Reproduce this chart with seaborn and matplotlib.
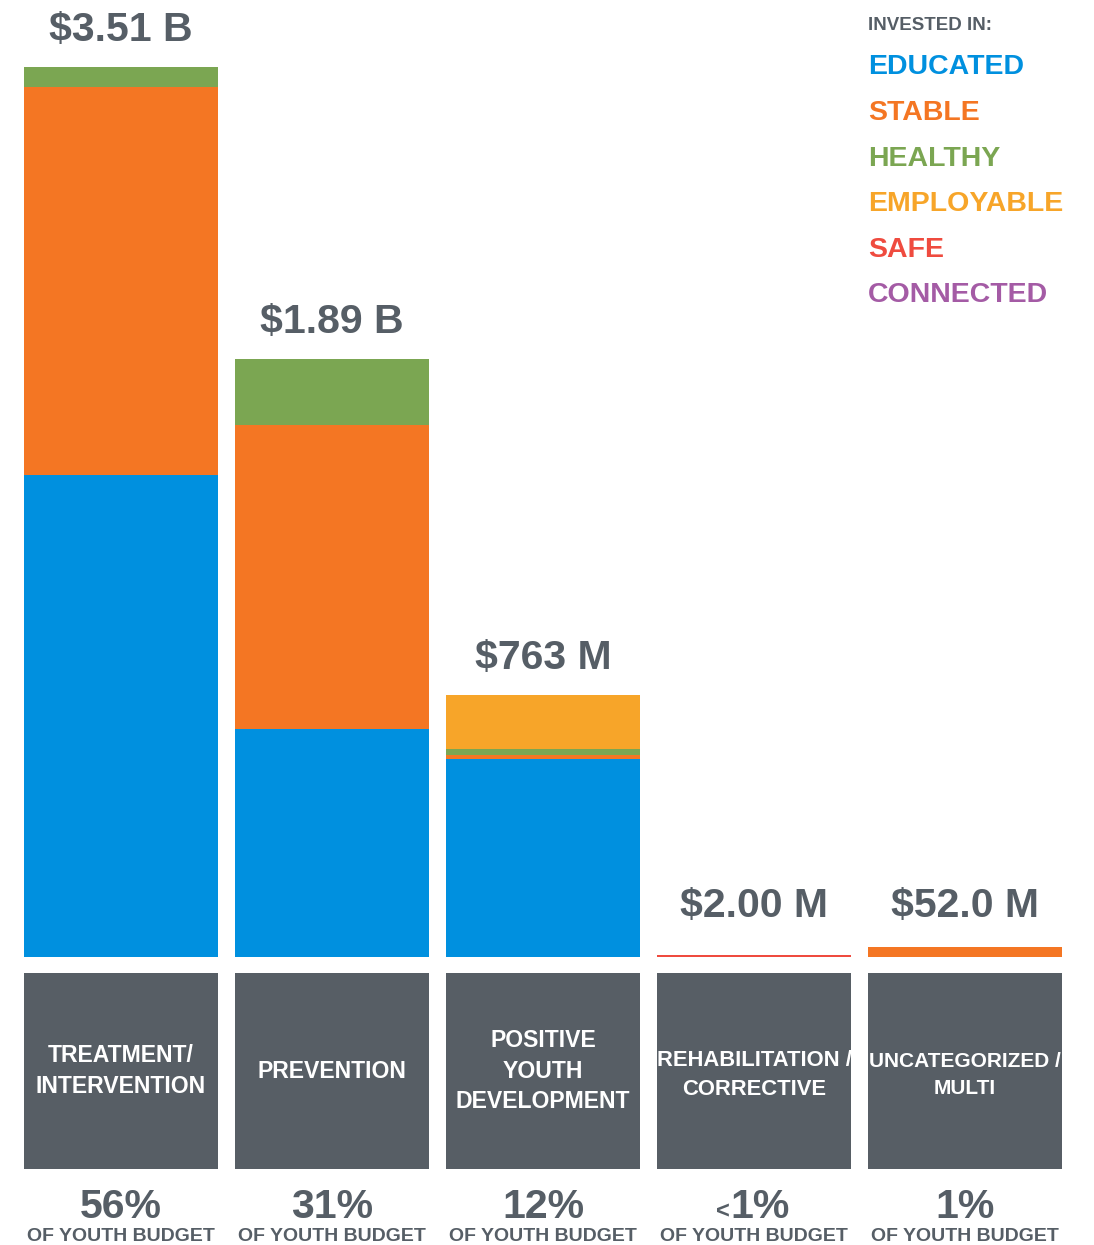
import matplotlib
matplotlib.use("Agg")
import matplotlib.pyplot as plt
import matplotlib.transforms as mtransforms
import numpy as np
import pandas as pd
import seaborn as sns

# ---------------- data (values as drawn, in "display billions") ----------------
categories = ["TREATMENT/\nINTERVENTION", "PREVENTION", "POSITIVE\nYOUTH\nDEVELOPMENT",
              "REHABILITATION /\nCORRECTIVE", "UNCATEGORIZED /\nMULTI"]
educated = [1.901, 0.899, 0.779, 0.0, 0.0]
stable = [1.530, 1.199, 0.016, 0.0, 0.039]
healthy = [0.079, 0.260, 0.026, 0.0, 0.0]
employable = [0.0, 0.0, 0.213, 0.0, 0.0]
safe = [0.0, 0.0, 0.0, 0.008, 0.0]
connected = [0.0, 0.0, 0.0, 0.0, 0.0]
total_labels = ["$3.51 B", "$1.89 B", "$763 M", "$2.00 M", "$52.0 M"]
share_labels = ["56%", "31%", "12%", "<1%", "1%"]
series_names = ["EDUCATED", "STABLE", "HEALTHY", "EMPLOYABLE", "SAFE", "CONNECTED"]

series_colors = ["#0090df", "#f47623", "#7ba652", "#f7a529", "#ef4b3f", "#a45ba5"]
text_gray = "#565e66"
box_gray = "#575e65"
box_font_sizes = [16.6, 16.6, 16.6, 15.8, 15.0]
box_line_spacing = [1.4, 1.4, 1.4, 1.5, 1.55]

sns.set_theme(style="white")
plt.rcParams["font.family"] = ["Liberation Sans", "DejaVu Sans"]
plt.rcParams["font.weight"] = "bold"

W, H = 1094, 1245
fig = plt.figure(figsize=(W / 100, H / 100), dpi=100)

left = 15.5 / W
width = 1055 / W
base_px = 957
ax = fig.add_axes([left, (H - base_px) / H, width, base_px / H])

df = pd.DataFrame({"cat": categories, "EDUCATED": educated, "STABLE": stable,
                   "HEALTHY": healthy, "EMPLOYABLE": employable, "SAFE": safe,
                   "CONNECTED": connected})
cum = df[series_names].cumsum(axis=1)

# draw cumulative layers from top to bottom so each lower layer covers the one above
for name, color in reversed(list(zip(series_names, series_colors))):
    sns.barplot(x=df["cat"], y=cum[name], order=categories,
                color=color, saturation=1, width=0.92, linewidth=0, ax=ax)

ax.set_xlim(-0.5, 4.5)
ax.set_ylim(0, 3.51 * base_px / 890)
ax.axis("off")

totals = cum["CONNECTED"].values
for i, (t, lab) in enumerate(zip(totals, total_labels)):
    ax.annotate(lab, xy=(i, max(t, 0.055)), xytext=(0, 37 * 0.72), textcoords="offset points",
                ha="center", va="center", fontsize=29.5, fontweight="bold", color=text_gray)

# category boxes
box_top, box_bot = 973, 1169
bax = fig.add_axes([left, (H - box_bot) / H, width, (box_bot - box_top) / H])
sns.barplot(x=categories, y=[1] * len(categories), order=categories, color=box_gray,
            saturation=1, width=0.92, linewidth=0, ax=bax)
bax.set_xlim(-0.5, 4.5)
bax.set_ylim(0, 1)
bax.axis("off")
for i, c in enumerate(categories):
    bax.text(i, 0.5 if i < 3 else 0.48, c, ha="center", va="center", color="white",
             fontsize=box_font_sizes[i], fontweight="bold", linespacing=box_line_spacing[i])

# shares
tr = mtransforms.blended_transform_factory(ax.transData, fig.transFigure)
pct_size = 29.5
for i, s in enumerate(share_labels):
    y = 1 - 1218 / H  # baseline
    if s.startswith("<"):
        main = s[1:]
        ax.annotate(main, xy=(i, y), xycoords=tr, xytext=(4.5, 0), textcoords="offset points",
                    ha="center", va="baseline", fontsize=pct_size, fontweight="bold",
                    color=text_gray, annotation_clip=False)
        ax.annotate("<", xy=(i, y), xycoords=tr, xytext=(-17.5, 0), textcoords="offset points",
                    ha="right", va="baseline", fontsize=17, fontweight="bold",
                    color=text_gray, annotation_clip=False)
    else:
        ax.text(i, y, s, transform=tr, ha="center", va="baseline",
                fontsize=pct_size, fontweight="bold", color=text_gray, clip_on=False)
    ax.text(i, 1 - 1241 / H, "OF YOUTH BUDGET", transform=tr, ha="center", va="baseline",
            fontsize=14, fontweight="bold", color=text_gray, clip_on=False)

# legend-like text
fig.text(868 / W, 1 - 30.5 / H, "INVESTED IN:", ha="left", va="baseline", fontsize=13.5,
         fontweight="bold", color=text_gray)
for k, (name, color) in enumerate(zip(series_names, series_colors)):
    fig.text(868 / W, 1 - (74.5 + 45.6 * k) / H, name, ha="left", va="baseline",
             fontsize=20.5, fontweight="bold", color=color)

fig.savefig("out.png", dpi=100, facecolor="white")
